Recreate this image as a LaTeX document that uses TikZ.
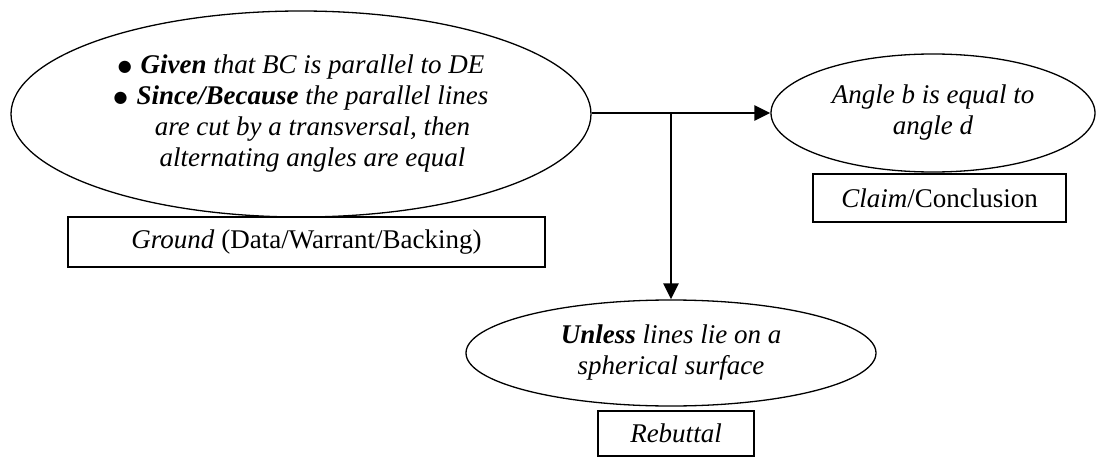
\documentclass[tikz,border=0pt]{standalone}
\usepackage{fontspec}
\setmainfont{Liberation Serif}
\newfontfamily\djv{DejaVu Sans}
\usetikzlibrary{shapes.geometric,arrows.meta}
\newcommand{\bul}{\raisebox{2.5pt}{\djv\fontsize{16}{16}\selectfont ●}\hspace{9pt}}
\begin{document}
\begin{tikzpicture}[x=1pt,y=-1pt,
  txt/.style={font=\fontsize{27}{31}\selectfont, align=center, text=black},
  oval/.style={ellipse, draw, line width=1.3pt, inner sep=0pt, txt},
  labelbox/.style={rectangle, draw, line width=1.3pt, inner sep=0pt, txt},
  conn/.style={line width=2.8pt, -{Triangle[length=16pt,width=15pt]}}
]
\useasboundingbox (0,0) rectangle (1096,460);
\node[oval, minimum width=580pt, minimum height=206pt] (L) at (301,114)
 {\itshape\bul\textbf{Given} that BC is parallel to DE\\
  \itshape\bul\textbf{Since/Because} the parallel lines\\
  \itshape\hphantom{\bul}are cut by a transversal, then\\
  \itshape\hphantom{\bul}alternating angles are equal};
\node[oval, minimum width=324pt, minimum height=118pt] (R) at (933,113)
 {\itshape Angle b is equal to\\ \itshape angle d};
\node[oval, minimum width=410pt, minimum height=106pt] (U) at (671,353)
 {\itshape\textbf{Unless} lines lie on a\\ \itshape spherical surface};
\node[labelbox, minimum width=477pt, minimum height=50pt] (G) at (306.5,242)
 {\textit{Ground} (Data/Warrant/Backing)};
\node[labelbox, minimum width=253pt, minimum height=48pt] (C) at (939.5,198)
 {\textit{Claim}/Conclusion};
\node[labelbox, minimum width=156pt, minimum height=45pt] (B) at (676,433.5)
 {\textit{Rebuttal}};
\draw[conn] (L.east |- R.west) -- (R.west);
\coordinate (J) at (U.north |- R.west);
\draw[conn] (J) -- (U.north);
\end{tikzpicture}
\end{document}
